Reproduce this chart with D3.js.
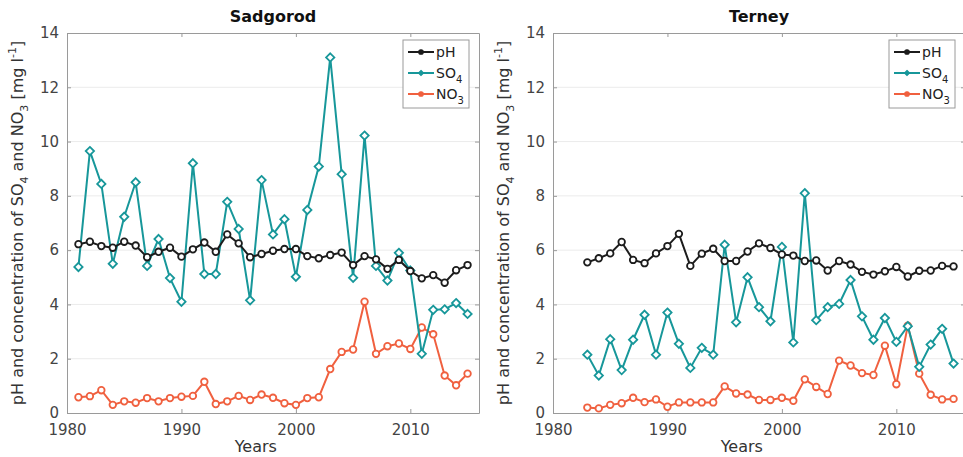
<!DOCTYPE html>
<meta charset="utf-8">
<style>
body { margin: 0; background: #fff; }
text { font-family: "DejaVu Sans", sans-serif; }
.tick text { font-size: 15px; fill: #444; }
.title { font-size: 16px; font-weight: bold; fill: #111; }
.lab { font-size: 16px; fill: #333; }
.leg { font-size: 14px; fill: #222; }
</style>
<svg width="963" height="457"></svg>
<script src="https://d3js.org/d3.v7.min.js"></script>
<script>

// Sadgorod, 1981-2015
var sadYears = d3.range(1981, 2016);
var sadPH = [6.22, 6.31, 6.15, 6.09, 6.31, 6.17, 5.74, 5.94, 6.09, 5.76,
  6.03, 6.28, 5.94, 6.58, 6.25, 5.74, 5.86, 5.98, 6.04, 6.04,
  5.78, 5.70, 5.82, 5.91, 5.45, 5.78, 5.66, 5.31, 5.64, 5.23,
  4.96, 5.08, 4.80, 5.26, 5.45];
var sadSO4 = [5.38, 9.65, 8.44, 5.50, 7.23, 8.50, 5.42, 6.41, 4.97, 4.10,
  9.20, 5.12, 5.12, 7.78, 6.78, 4.15, 8.58, 6.58, 7.14, 5.02,
  7.48, 9.08, 13.1, 8.80, 4.98, 10.22, 5.42, 4.88, 5.90, 5.25,
  2.18, 3.80, 3.82, 4.05, 3.65];
var sadNO3 = [0.58, 0.62, 0.84, 0.30, 0.43, 0.38, 0.55, 0.43, 0.55, 0.60,
  0.63, 1.15, 0.33, 0.43, 0.63, 0.48, 0.68, 0.56, 0.36, 0.30,
  0.55, 0.58, 1.62, 2.25, 2.34, 4.10, 2.18, 2.46, 2.56, 2.36,
  3.15, 2.90, 1.38, 1.02, 1.45];

// Terney, 1983-2015
var terYears = d3.range(1983, 2016);
var terPH = [5.55, 5.70, 5.88, 6.30, 5.64, 5.52, 5.88, 6.15, 6.60, 5.42,
  5.87, 6.05, 5.60, 5.60, 5.95, 6.25, 6.08, 5.84, 5.80, 5.60,
  5.62, 5.25, 5.60, 5.47, 5.20, 5.10, 5.22, 5.38, 5.03, 5.24,
  5.25, 5.42, 5.40];
var terSO4 = [2.15, 1.38, 2.72, 1.58, 2.70, 3.62, 2.15, 3.70, 2.55, 1.66,
  2.40, 2.15, 6.20, 3.34, 5.00, 3.90, 3.38, 6.12, 2.60, 8.10,
  3.42, 3.90, 4.02, 4.90, 3.56, 2.70, 3.50, 2.62, 3.20, 1.70,
  2.52, 3.10, 1.82];
var terNO3 = [0.20, 0.17, 0.30, 0.36, 0.56, 0.40, 0.50, 0.23, 0.39, 0.39,
  0.39, 0.39, 0.98, 0.72, 0.68, 0.48, 0.48, 0.56, 0.45, 1.24,
  0.96, 0.70, 1.93, 1.75, 1.47, 1.40, 2.48, 1.06, 3.22, 1.45,
  0.67, 0.50, 0.52];

var xTicks = [1980, 1990, 2000, 2010];
var yTicks = [0, 2, 4, 6, 8, 10, 12, 14];

var colPH = "#1c1c1c", colSO4 = "#17979a", colNO3 = "#f0603f";

var svg = d3.select("svg");

var plotW = 412, plotTop = 33, plotBottom = 413;

function symFor(m, size) {
  return d3.symbol().type(m == "circle" ? d3.symbolCircle : d3.symbolDiamond2).size(size);
}

function panel(x0, name, years, ph, so4, no3) {
  var x = d3.scaleLinear().domain([1980, 2016]).range([x0, x0 + plotW]);
  var y = d3.scaleLinear().domain([0, 14]).range([plotBottom, plotTop]);
  var g = svg.append("g");

  // grid
  g.selectAll(".grid").data(yTicks.slice(1, -1)).enter().append("line")
    .attr("x1", x0).attr("x2", x0 + plotW)
    .attr("y1", d => y(d)).attr("y2", d => y(d))
    .attr("stroke", "#ebebeb").attr("stroke-width", 1);

  // axes
  var ax = g.append("g").attr("transform", "translate(0," + plotBottom + ")")
    .call(d3.axisBottom(x).tickValues(xTicks).tickFormat(d3.format("d")).tickSizeInner(-4).tickSizeOuter(0).tickPadding(11));
  var ay = g.append("g").attr("transform", "translate(" + x0 + ",0)")
    .call(d3.axisLeft(y).tickValues(yTicks).tickSizeInner(-4).tickSizeOuter(0).tickPadding(8));
  var axt = g.append("g").attr("transform", "translate(0," + plotTop + ")")
    .call(d3.axisTop(x).tickValues(xTicks).tickFormat("").tickSizeInner(-4).tickSizeOuter(0));
  var ayr = g.append("g").attr("transform", "translate(" + (x0 + plotW) + ",0)")
    .call(d3.axisRight(y).tickValues(yTicks).tickFormat("").tickSizeInner(-4).tickSizeOuter(0));
  [ax, ay, axt, ayr].forEach(a => {
    a.select(".domain").attr("stroke", "#9a9a9a");
    a.selectAll(".tick line").attr("stroke", "#9a9a9a");
    a.attr("font-family", null).attr("font-size", null);
  });

  var series = [
    { v: no3, c: colNO3, m: "circle" },
    { v: so4, c: colSO4, m: "diamond" },
    { v: ph, c: colPH, m: "circle" }
  ];
  var line = d3.line().x((d, i) => x(years[i])).y(d => y(d));
  series.forEach(s => {
    g.append("path").datum(s.v).attr("d", line)
      .attr("fill", "none").attr("stroke", s.c).attr("stroke-width", 2);
    g.selectAll(null).data(s.v).enter().append("path")
      .attr("d", symFor(s.m, s.m == "circle" ? 34 : 44))
      .attr("transform", (d, i) => "translate(" + x(years[i]) + "," + y(d) + ")")
      .attr("fill", "#fff").attr("stroke", s.c).attr("stroke-width", 1.8);
  });

  // title
  g.append("text").attr("class", "title").attr("x", x0 + plotW / 2).attr("y", 22)
    .attr("text-anchor", "middle").text(name);
  // x label
  g.append("text").attr("class", "lab").attr("x", x(1996.5)).attr("y", 452)
    .attr("text-anchor", "middle").text("Years");
  // y label
  var yl = g.append("text").attr("class", "lab")
    .attr("transform", "translate(" + (x0 - 44) + "," + ((plotTop + plotBottom) / 2) + ") rotate(-90)")
    .attr("text-anchor", "middle");
  yl.append("tspan").text("pH and concentration of SO");
  yl.append("tspan").attr("font-size", 11).attr("dy", 5).text("4");
  yl.append("tspan").attr("dy", -5).text(" and NO");
  yl.append("tspan").attr("font-size", 11).attr("dy", 5).text("3");
  yl.append("tspan").attr("dy", -5).text(" [mg l");
  yl.append("tspan").attr("font-size", 11).attr("dy", -7).text("-1");
  yl.append("tspan").attr("dy", 7).text("]");

  // legend
  var lx = x0 + plotW - 76, ly = 40;
  g.append("rect").attr("x", lx).attr("y", ly).attr("width", 66).attr("height", 68)
    .attr("fill", "#fff").attr("stroke", "#9a9a9a").attr("stroke-width", 1);
  var legItems = [
    { c: colPH, m: "circle", t: "pH", s: "" },
    { c: colSO4, m: "diamond", t: "SO", s: "4" },
    { c: colNO3, m: "circle", t: "NO", s: "3" }
  ];
  legItems.forEach((it, i) => {
    var yy = ly + 12 + i * 21;
    g.append("line").attr("x1", lx + 5).attr("x2", lx + 31).attr("y1", yy).attr("y2", yy)
      .attr("stroke", it.c).attr("stroke-width", 2);
    g.append("path")
      .attr("d", symFor(it.m, 16))
      .attr("transform", "translate(" + (lx + 18) + "," + yy + ")")
      .attr("fill", it.c).attr("stroke", it.c).attr("stroke-width", 1.2);
    var t = g.append("text").attr("class", "leg").attr("x", lx + 33).attr("y", yy + 5);
    t.append("tspan").text(it.t);
    if (it.s) t.append("tspan").attr("font-size", 10).attr("dy", 5).text(it.s);
  });
}

panel(67, "Sadgorod", sadYears, sadPH, sadSO4, sadNO3);
panel(553, "Terney", terYears, terPH, terSO4, terNO3);

</script>
